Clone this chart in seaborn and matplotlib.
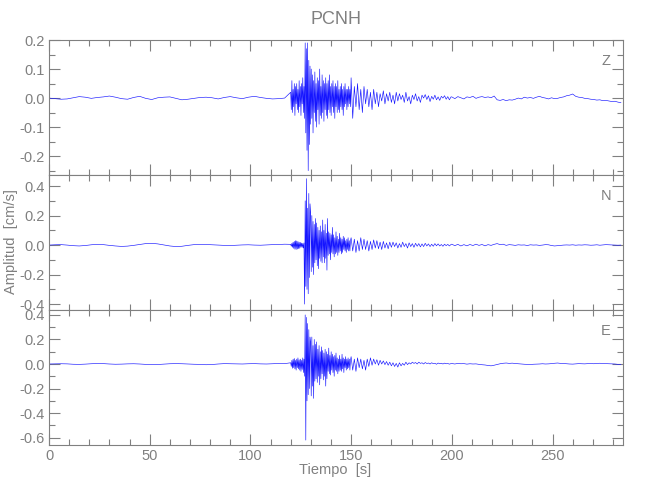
import numpy as np
import pandas as pd
import matplotlib
matplotlib.use("Agg")
import matplotlib.pyplot as plt
import seaborn as sns
from matplotlib.ticker import MultipleLocator, FormatStrFormatter

# sampling of the four segments of each trace: (start [s], step [s])
segments = [(0.0, 3.0), (120.0, 0.3), (150.0, 0.8), (200.0, 1.5)]

# ---- componente Z [cm/s]
z_pre = [0.000, -0.002, -0.004, -0.003, 0.001, 0.005, 0.003, -0.001, 0.002, 0.004,
         0.007, 0.003, -0.002, -0.004, 0.002, 0.006, -0.001, -0.005, 0.001, 0.003,
         0.004, -0.001, -0.006, -0.004, -0.001, 0.002, 0.003, 0.001, -0.003, 0.002,
         0.005, 0.001, -0.002, 0.003, 0.006, 0.002, -0.001, -0.003, -0.002, 0.000]
z_main = [0.02, -0.04, 0.06, -0.05, 0.03, -0.03, 0.05, -0.06, 0.04, -0.02,
          0.05, -0.04, 0.03, -0.05, 0.06, -0.03, 0.04, -0.06, 0.05, -0.02,
          0.07, -0.05, 0.04, -0.07,
          0.19, -0.12, 0.17, -0.18, 0.19, -0.25, 0.13, -0.16, 0.11, -0.09,
          0.10, -0.07, 0.08, -0.12, 0.06, -0.05, 0.09, -0.08, 0.05, -0.10,
          0.07, -0.04, 0.06, -0.09, 0.10, -0.06, 0.04, -0.07, 0.08, -0.05,
          0.06, -0.08, 0.05, -0.04, 0.07, -0.06, 0.05,
          -0.07, 0.06, -0.04, 0.08, -0.05, 0.04, -0.06, 0.05, -0.03, 0.06,
          -0.05, 0.04, -0.07, 0.05, -0.03, 0.04, -0.05, 0.06, -0.04, 0.03,
          -0.05, 0.04, -0.03, 0.05, -0.04, 0.03, -0.06, 0.04, -0.03, 0.05,
          -0.02, 0.03, -0.04, 0.03, -0.03, 0.04, -0.02, 0.03, -0.03]
z_coda = [0.07, -0.07, 0.04, -0.03, 0.05, -0.04, 0.03, -0.05, 0.04, -0.02,
          0.03, -0.03, 0.02, -0.04, 0.03, -0.02, 0.02, -0.03, 0.015, -0.01,
          0.025, -0.02, 0.015, -0.01, 0.02, -0.015, 0.01, -0.02, 0.02, -0.01,
          0.015, -0.005, 0.01, -0.015, 0.02, -0.01, 0.005, -0.02, 0.01, -0.005,
          0.015, -0.01, 0.005, -0.015, 0.01, 0.000, 0.012, -0.005, 0.008, -0.012,
          0.006, -0.004, 0.010, -0.006, 0.004, -0.008, 0.006, 0.000, 0.008, -0.004,
          0.005, -0.006, 0.004]
z_tail = [0.004, -0.002, 0.005, 0.001, -0.003, 0.004, 0.002, 0.006, -0.001, 0.003,
          0.005, 0.002, 0.004, 0.001, 0.007, -0.006, -0.008, -0.005, -0.009, -0.006,
          -0.007, -0.004, 0.000, -0.003, 0.003, 0.000, 0.002, -0.001, 0.003, 0.006,
          0.002, 0.000, -0.003, 0.001, -0.002, -0.001, 0.002, 0.004, 0.008, 0.010,
          0.014, 0.006, 0.003, 0.002, -0.001, -0.002, -0.004, -0.005, -0.007, -0.006,
          -0.009, -0.008, -0.010, -0.012, -0.011, -0.014, -0.016]

# ---- componente N [cm/s]
n_pre = [0.000, 0.002, 0.003, 0.000, -0.004, -0.006, -0.003, 0.002, 0.005, 0.003,
         -0.002, -0.006, -0.009, -0.007, -0.002, 0.004, 0.010, 0.012, 0.008, 0.001,
         -0.006, -0.010, -0.008, -0.002, 0.003, 0.005, 0.004, 0.002, 0.000, -0.002,
         -0.003, -0.001, 0.001, 0.002, 0.000, -0.001, 0.001, 0.003, 0.004, 0.006]
n_main = [0.005, -0.008, 0.012, -0.015, 0.020, -0.022, 0.025, -0.028, 0.030, -0.030,
          0.028, -0.027, 0.025, -0.024, 0.020, -0.022, 0.018, -0.015, 0.014, -0.016,
          0.012, -0.020, 0.015,
          -0.40, 0.30, -0.28, 0.45, -0.30, 0.25, -0.33, 0.35, -0.22, 0.28,
          0.22, -0.18, 0.20, -0.15, 0.16, -0.20, 0.14, -0.12, 0.18, -0.10,
          0.15, -0.14, 0.12, -0.16, 0.10, -0.09, 0.13, -0.11, 0.09, -0.12,
          0.17, -0.08, 0.10,
          -0.12, 0.14, -0.09, 0.08, -0.17, 0.18, -0.07, 0.09, -0.06, 0.08,
          -0.10, 0.07, -0.05, 0.12, -0.06, 0.07, -0.08, 0.05, -0.06, 0.09,
          -0.05, 0.06, -0.07, 0.04, -0.05, 0.08, -0.04, 0.05, -0.06, 0.04,
          -0.05, 0.06, -0.03, 0.05, -0.04, 0.03, -0.05, 0.04, -0.03, 0.05,
          -0.04, 0.03, -0.04, 0.03]
n_coda = [0.05, -0.04, 0.04, -0.05, 0.03, -0.04, 0.05, -0.03, 0.04, -0.03,
          0.03, -0.04, 0.025, -0.03, 0.035, -0.02, 0.03, -0.025, 0.02, -0.03,
          0.025, -0.02, 0.015, -0.025, 0.02, -0.015, 0.02, -0.01, 0.015, -0.02,
          0.01, -0.015, 0.02, -0.01, 0.01, -0.02, 0.015, -0.01, 0.01, -0.015,
          0.012, -0.008, 0.01, -0.012, 0.008, -0.01, 0.012, -0.006, 0.008, -0.01,
          0.006, -0.008, 0.01, -0.005, 0.008, -0.006, 0.004, -0.008, 0.006, -0.004,
          0.005, -0.006, 0.004]
n_tail = [0.006, -0.004, 0.005, -0.006, 0.003, -0.005, 0.004, -0.003, 0.006, -0.002,
          0.004, -0.005, 0.003, -0.002, 0.005, 0.010, 0.003, 0.006, -0.002, 0.003,
          0.001, -0.002, 0.002, 0.000, 0.001, -0.003, 0.002, 0.000, 0.001, -0.002,
          0.000, 0.003, 0.002, -0.003, -0.006, -0.004, -0.002, 0.000, 0.001, 0.000,
          0.002, -0.001, 0.001, 0.000, 0.002, 0.001, -0.001, 0.000, 0.002, -0.001,
          0.001, 0.003, 0.002, 0.001, 0.000, -0.001, 0.000]

# ---- componente E [cm/s]
e_pre = [0.000, 0.001, 0.002, 0.001, -0.002, -0.003, -0.001, 0.002, 0.004, 0.003,
         0.000, -0.002, -0.001, 0.001, 0.002, 0.000, -0.003, -0.005, -0.004, -0.001,
         0.002, 0.003, 0.002, 0.000, -0.002, -0.003, -0.006, -0.004, 0.000, 0.003,
         0.002, 0.001, 0.000, 0.002, 0.003, 0.001, 0.000, 0.002, 0.004, 0.003]
e_main = [0.01, -0.02, 0.03, -0.035, 0.04, -0.03, 0.045, -0.04, 0.03, -0.05,
          0.04, -0.03, 0.05, -0.04, 0.035, -0.05, 0.04, -0.06, 0.03, -0.045,
          0.05, -0.07, 0.04,
          -0.10, 0.40, -0.62, 0.38, -0.30, 0.33, -0.25, 0.28, -0.20, 0.22,
          0.18, -0.26, 0.22, -0.18, 0.15, -0.28, 0.20, -0.14, 0.16, -0.12,
          0.18, -0.15, 0.12, -0.10, 0.15, -0.17, 0.10, -0.12, 0.14, -0.08,
          0.11, -0.13, 0.09,
          -0.10, 0.12, -0.18, 0.10, -0.12, 0.08, -0.06, 0.13, -0.08, 0.07,
          -0.09, 0.10, -0.05, 0.08, -0.07, 0.06, -0.10, 0.07, -0.05, 0.09,
          -0.06, 0.05, -0.08, 0.04, -0.06, 0.07, -0.05, 0.04, -0.06, 0.08,
          -0.04, 0.05, -0.07, 0.04, -0.03, 0.06, -0.05, 0.04, -0.04, 0.05,
          -0.03, 0.04, -0.05, 0.03]
e_coda = [0.06, -0.05, 0.04, -0.06, 0.05, -0.03, 0.04, -0.04, 0.03, -0.05,
          0.04, -0.02, 0.05, -0.01, 0.04, 0.00, 0.035, -0.01, 0.03, 0.00,
          0.025, -0.005, 0.02, -0.01, 0.015, -0.015, 0.01, -0.02, 0.005, -0.025,
          0.01, -0.015, 0.005, -0.01, 0.015, -0.005, 0.01, 0.00, 0.015, 0.005,
          0.012, 0.00, 0.015, 0.005, 0.01, 0.00, 0.012, 0.004, 0.008, 0.00,
          0.01, 0.003, 0.006, -0.002, 0.008, 0.002, 0.006, 0.000, 0.007, 0.002,
          0.004, -0.001, 0.003]
e_tail = [0.004, 0.000, 0.005, 0.002, 0.003, -0.001, 0.002, 0.000, 0.001, -0.003,
          -0.006, -0.008, -0.012, -0.015, -0.010, -0.004, 0.002, 0.006, 0.008, 0.005,
          0.007, 0.004, 0.002, 0.000, -0.002, -0.003, -0.004, -0.002, -0.001, 0.000,
          0.002, 0.000, 0.001, 0.003, 0.006, 0.008, 0.005, 0.004, 0.002, 0.000,
          -0.001, 0.001, 0.003, 0.002, 0.001, 0.003, 0.004, 0.002, 0.005, 0.006,
          0.004, 0.003, 0.002, 0.001, 0.000, -0.003, -0.004]

components = ["Z", "N", "E"]
traces = {"Z": [z_pre, z_main, z_coda, z_tail],
          "N": [n_pre, n_main, n_coda, n_tail],
          "E": [e_pre, e_main, e_coda, e_tail]}
ylims = {"Z": (-0.265, 0.2), "N": (-0.44, 0.475), "E": (-0.66, 0.44)}
ymajor = {"Z": 0.1, "N": 0.2, "E": 0.2}
yminor = {"Z": 0.05, "N": 0.1, "E": 0.1}


def build_df(parts):
    t, v = [], []
    for (t0, dt), vals in zip(segments, parts):
        t.extend(t0 + dt * np.arange(len(vals)))
        v.extend(vals)
    return pd.DataFrame({"t": t, "amp": v})


sns.set_theme(style="white")
plt.rcParams["font.family"] = ["Liberation Sans", "DejaVu Sans"]
grey = "#808080"

fig = plt.figure(figsize=(6.5, 5), dpi=100)
left, width, h = 49 / 650, 574 / 650, 135 / 500
bottoms = [1 - 175 / 500, 1 - 310 / 500, 1 - 445 / 500]

for comp, b in zip(components, bottoms):
    ax = fig.add_axes([left, b, width, h])
    df = build_df(traces[comp])
    sns.lineplot(data=df, x="t", y="amp", ax=ax, color="#1515ff", lw=0.45,
                 estimator=None, sort=False)
    ax.set_xlim(0, 285)
    ax.set_ylim(*ylims[comp])
    ax.xaxis.set_major_locator(MultipleLocator(50))
    ax.xaxis.set_minor_locator(MultipleLocator(10))
    ax.yaxis.set_major_locator(MultipleLocator(ymajor[comp]))
    ax.yaxis.set_minor_locator(MultipleLocator(yminor[comp]))
    ax.yaxis.set_major_formatter(FormatStrFormatter("%.1f"))
    ax.tick_params(which="both", direction="in", top=True, right=True,
                   bottom=True, left=True, color=grey, width=0.8,
                   labelcolor=grey, labelsize=10.5, pad=3)
    ax.tick_params(which="major", length=8)
    ax.tick_params(which="minor", length=4)
    for s in ax.spines.values():
        s.set_color(grey)
        s.set_linewidth(0.8)
    ax.set_xlabel("")
    ax.set_ylabel("")
    ax.text(0.97, 0.845, comp, transform=ax.transAxes, ha="center",
            va="center", color=grey, fontsize=10.5)
    if comp != "E":
        ax.tick_params(labelbottom=False)

fig.text(335 / 650, 1 - 470 / 500, "Tiempo  [s]", ha="center", va="center",
         color=grey, fontsize=10.5)
fig.text(11 / 650, 1 - 242 / 500, "Amplitud  [cm/s]", ha="center",
         va="center", rotation=90, color=grey, fontsize=10.5)
fig.text(336 / 650, 1 - 20 / 500, "PCNH", ha="center", va="center",
         color=grey, fontsize=13)

fig.savefig("out.png", dpi=100)
